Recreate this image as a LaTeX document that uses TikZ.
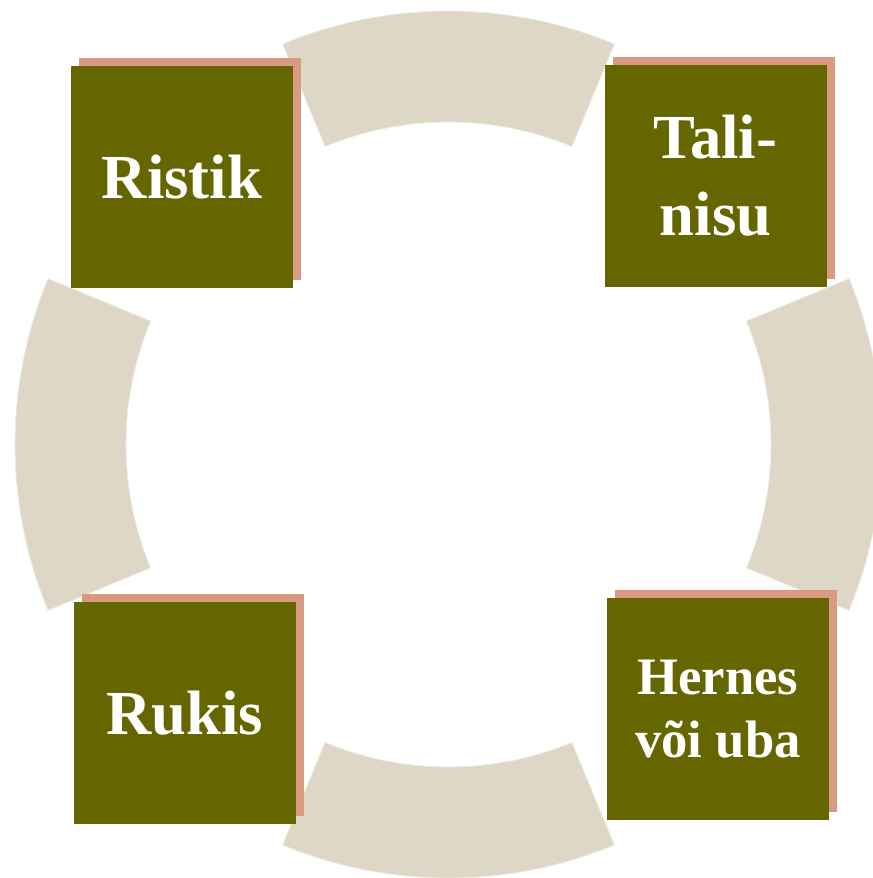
\documentclass[tikz,border=0pt]{standalone}
\usepackage{fontspec}
\setmainfont{Liberation Serif}
\usetikzlibrary{shadows}
\definecolor{ringbeige}{RGB}{222,215,197}
\definecolor{cropolive}{RGB}{102,102,0}
\definecolor{shadowpink}{RGB}{216,155,130}
\begin{document}
\begin{tikzpicture}[x=0.75pt, y=-0.75pt,
  sector/.style={fill=ringbeige, draw=ringbeige!50!white, line width=0.6pt},
  crop/.style={fill=cropolive, text=white, minimum size=166.5pt, inner sep=0pt,
    align=center, font=\bfseries\fontsize{47}{57.5}\selectfont,
    general shadow={fill=shadowpink, shadow xshift=6pt, shadow yshift=6pt}}]
  \clip (0,0) rectangle (873,878);
  % Four ring sectors round the centre
  \begin{scope}[shift={(448.5,444.5)}]
    \foreach \a in {0,90,180,270}
      \draw[sector] (\a-22.5:433.5) arc (\a-22.5:\a+22.5:433.5)
        -- (\a+22.5:322.5) arc (\a+22.5:\a-22.5:322.5) -- cycle;
  \end{scope}
  % Crop boxes
  \node[crop] (ristik)   at (182,177)   {Ristik};
  \node[crop] (talinisu) at (715.5,175.5) {Tali-\\nisu};
  \node[crop, font=\bfseries\fontsize{39.5}{47.5}\selectfont] (hernes) at (718,709) {Hernes\\või uba};
  \node[crop] (rukis)    at (185,713)   {Rukis};
\end{tikzpicture}
\end{document}
